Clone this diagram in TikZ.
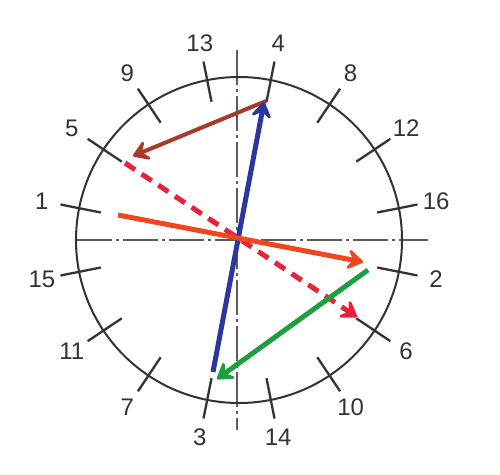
\documentclass[tikz,border=0pt]{standalone}
\usepackage{fontspec}
\setmainfont{Liberation Sans}
\usetikzlibrary{arrows.meta,calc}
\definecolor{ink}{HTML}{333333}
\definecolor{cblue}{HTML}{2B36A0}
\definecolor{cbrown}{HTML}{A8392B}
\definecolor{corange}{HTML}{F2461E}
\definecolor{cred}{HTML}{E62138}
\definecolor{cgreen}{HTML}{1E9E3E}
\tikzset{
  axis/.style={draw=ink!80, line width=1.5pt, dash pattern=on 35pt off 4pt on 3pt off 4pt},
  rim/.style={draw=ink, line width=2pt},
  tick/.style={draw=ink, line width=2.3pt},
  lbl/.style={font=\fontsize{24}{28}\selectfont, text=ink, inner sep=0pt},
  vec/.style={line width=5pt,
    -{Stealth[length=20pt,width=26pt,inset=9pt,round]}},
}
\begin{document}
\begin{tikzpicture}[x=1pt,y=1pt]
\useasboundingbox (0,-474) rectangle (500,0);
\fill[white] (0,-474) rectangle (500,0);
\coordinate (O) at (239,-240);
% axes
\coordinate (hl) at (77,-240);
\coordinate (hr) at (428,-240);
\coordinate (vt) at (237,-50);
\coordinate (vb) at (237,-430);
\path[axis] (hl) -- (hr);
\path[axis] (vt) -- (vb);
% circle
\draw[rim] (O) circle[radius=163];
% ticks and labels
\foreach \a/\t in {-11.25/2, 11.25/16, 33.75/12, 56.25/8, 78.75/4, 101.25/13,
  123.75/9, 146.25/5, 168.75/1, 191.25/15, 213.75/11, 236.25/7, 258.75/3,
  281.25/14, 303.75/10, 326.25/6}{
  \draw[tick] ($(O)+(\a:141)$) -- ($(O)+(\a:182)$);
  \node[lbl] (n\t) at ($(O)+(\a:201)$) {\t};
}
% vectors
\coordinate (b1) at (213,-372); \coordinate (b2) at (264,-102);
\coordinate (r1) at (266,-101); \coordinate (r2) at (133,-156);
\coordinate (o1) at (118,-215); \coordinate (o2) at (363,-262);
\coordinate (d1) at (125,-163); \coordinate (d2) at (357,-317);
\coordinate (g1) at (368,-270); \coordinate (g2) at (217,-379);
\draw[vec, cred, dash pattern=on 12pt off 8pt] (d1) -- (d2);
\draw[vec, cgreen] (g1) -- (g2);
\draw[vec, cbrown, line width=4pt] (r1) -- (r2);
\draw[vec, cblue] (b1) -- (b2);
\draw[vec, corange] (o1) -- (o2);
\end{tikzpicture}
\end{document}
